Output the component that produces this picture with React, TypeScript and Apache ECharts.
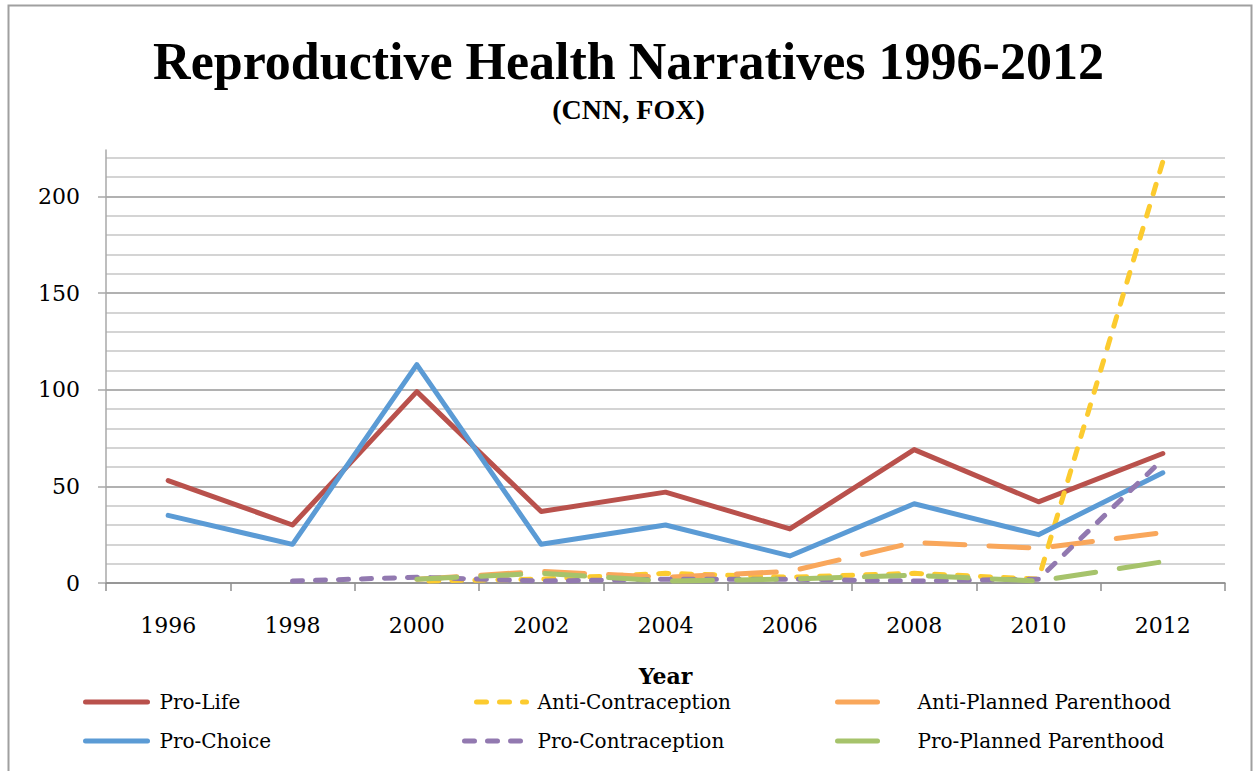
import React, { useEffect, useRef } from "react";
import * as echarts from "echarts";

const years = ["1996", "1998", "2000", "2002", "2004", "2006", "2008", "2010", "2012"];
const proLife = [53, 30, 99, 37, 47, 28, 69, 42, 67];
const antiContraception = [null, null, 1, 2, 5, 3, 5, 2, 218];
const antiPlannedParenthood = [null, null, 2, 6, 3, 6, 21, 18, 26];
const proChoice = [35, 20, 113, 20, 30, 14, 41, 25, 57];
const proContraception = [null, 1, 3, 1, 2, 2, 1, 2, 64];
const proPlannedParenthood = [null, null, 2, 5, 1, 2, 4, 1, 11];
const yTickLabels = [0, 50, 100, 150, 200];

const SERIF = "'DejaVu Serif', serif";
const TITLE_FONT = "'Liberation Serif', serif";

export default function App() {
  const ref = useRef<HTMLDivElement>(null);
  useEffect(() => {
    if (!ref.current) return;
    const chart = echarts.init(ref.current, null, { renderer: "svg" });
    const shortDash = [10, 13];
    const longDash = [40, 24];
    const mk = (name: string, data: any[], color: string, dash: any, offset = 0) => ({
      name,
      type: "line",
      data,
      symbol: "none",
      connectNulls: false,
      lineStyle: { color, width: 5, type: dash, dashOffset: offset, cap: "round", join: "round" },
      itemStyle: { color },
    });
    const minor = "#C6C6C6";
    const major = "#979797";
    const legendBase = {
      orient: "vertical",
      top: 687,
      itemWidth: 62,
      itemHeight: 14,
      itemGap: 19,
      lineStyle: { width: 5 },
      itemStyle: { color: "transparent", borderColor: "transparent", borderWidth: 0 },
    };
    const legendText = (pad: number) => ({
      fontFamily: SERIF,
      fontSize: 20,
      color: "#000",
      padding: [0, 0, 0, pad],
    });
    chart.setOption({
      animation: false,
      backgroundColor: "#fff",
      title: {
        text: "Reproductive Health Narratives 1996-2012",
        subtext: "(CNN, FOX)",
        left: "center",
        top: 30,
        itemGap: 8,
        textStyle: { fontFamily: TITLE_FONT, fontWeight: "bold", fontSize: 52, color: "#000" },
        subtextStyle: { fontFamily: TITLE_FONT, fontWeight: "bold", fontSize: 28, color: "#000" },
      },
      graphic: [
        {
          type: "rect",
          shape: { x: 8.5, y: 5.5, width: 1243, height: 800 },
          style: { fill: "none", stroke: "#A0A0A0", lineWidth: 2 },
          silent: true,
        },
      ],
      grid: { left: 106, top: 150, width: 1119, height: 433 },
      xAxis: {
        type: "category",
        data: years,
        boundaryGap: true,
        axisLine: { lineStyle: { color: "#8F8F8F", width: 1.5 } },
        axisTick: { show: true, length: 8, lineStyle: { color: "#8F8F8F", width: 1.5 } },
        axisLabel: { fontFamily: SERIF, fontSize: 22, color: "#000", margin: 31 },
        name: "Year",
        nameLocation: "middle",
        nameGap: 82,
        nameTextStyle: { fontFamily: SERIF, fontWeight: "bold", fontSize: 22, color: "#000" },
      },
      yAxis: [
        {
          type: "value",
          min: 0,
          max: 224,
          interval: 10,
          axisLine: { show: true, lineStyle: { color: "#A8A8A8", width: 1.5 } },
          axisTick: { show: false },
          axisLabel: { customValues: yTickLabels, fontFamily: SERIF, fontSize: 22, color: "#000", margin: 26 },
          splitLine: {
            show: true,
            showMaxLine: false,
            lineStyle: { color: [major, minor, minor, minor, minor], width: 1.6 },
          },
        },
        {
          type: "value",
          min: 0,
          max: 224,
          interval: 50,
          position: "left",
          axisLine: { show: false },
          axisTick: { show: true, customValues: yTickLabels, length: 8, lineStyle: { color: "#A8A8A8", width: 1.5 } },
          axisLabel: { show: false },
          splitLine: { show: false },
        },
      ],
      legend: [
        { ...legendBase, data: ["Pro-Life", "Pro-Choice"], left: 78, textStyle: legendText(7) },
        { ...legendBase, data: ["Anti-Contraception", "Pro-Contraception"], left: 457, textStyle: legendText(6) },
        { ...legendBase, data: ["Anti-Planned Parenthood", "Pro-Planned Parenthood"], left: 830, textStyle: legendText(13) },
      ],
      series: [
        mk("Pro-Life", proLife, "#B9514C", "solid"),
        mk("Anti-Contraception", antiContraception, "#FCCB2F", shortDash, 11),
        mk("Anti-Planned Parenthood", antiPlannedParenthood, "#F9A75B", longDash),
        mk("Pro-Choice", proChoice, "#5B9BD5", "solid"),
        mk("Pro-Contraception", proContraception, "#9279B0", shortDash),
        mk("Pro-Planned Parenthood", proPlannedParenthood, "#A6C36B", longDash),
      ],
    });
    return () => chart.dispose();
  }, []);
  return (
    <div
      ref={ref}
      style={{ position: "absolute", left: 0, top: 0, width: 1257, height: 771 }}
    />
  );
}
